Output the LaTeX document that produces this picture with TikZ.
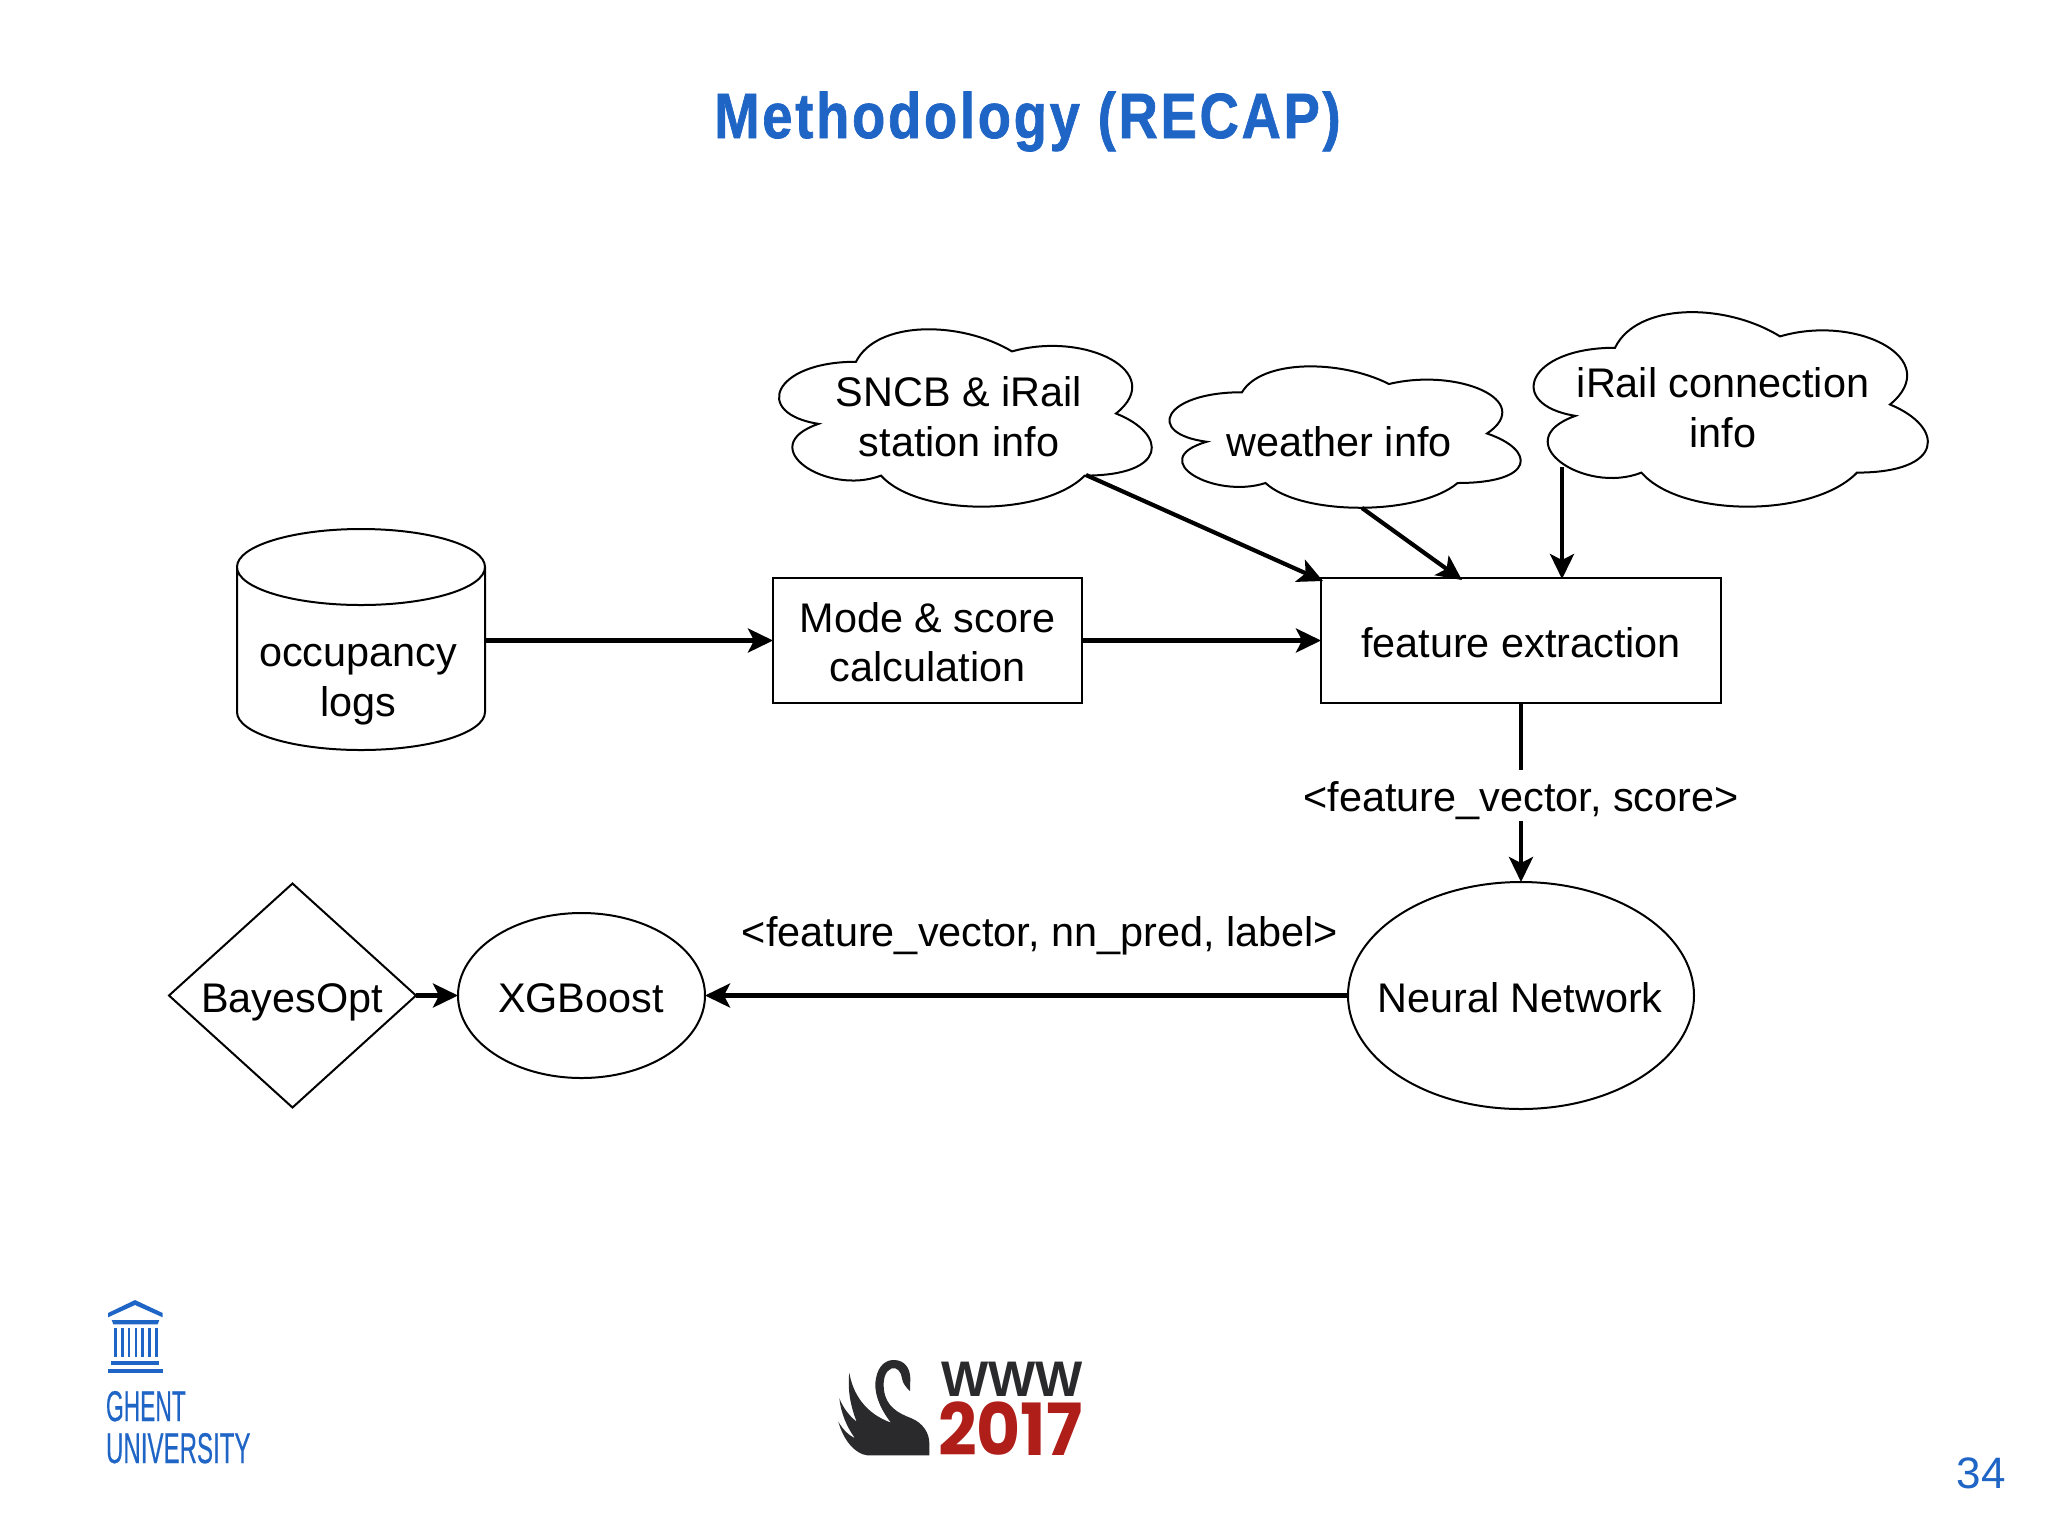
\documentclass[tikz,border=0pt]{standalone}
\usepackage{fontspec}
\setmainfont{Liberation Sans}
\newfontfamily\yrfont{Poppins}
\usetikzlibrary{arrows.meta,shapes.geometric}
\definecolor{ugblue}{HTML}{1F65C6}
\definecolor{swanblack}{HTML}{2A2A2C}
\definecolor{wwwred}{HTML}{B01E1A}
\newcommand{\cloudoutline}[4]{%
  \draw[shapeline,fill=white,shift={(#1,#2)},x=#3pt,y=-#4pt]
   (.25,.25) .. controls (.05,.25) and (0,.5) .. (.16,.55)
   .. controls (0,.66) and (.18,.9) .. (.31,.8)
   .. controls (.4,1) and (.7,1) .. (.8,.8)
   .. controls (1,.8) and (1,.6) .. (.875,.5)
   .. controls (1,.3) and (.8,.1) .. (.625,.2)
   .. controls (.5,.05) and (.3,.05) .. (.25,.25) -- cycle;}
\newcommand{\topst}{\rule{0pt}{42pt}}
\newcommand{\botst}{\rule[-9pt]{0pt}{9pt}}
\newcommand{\lblfont}{\fontsize{41.4}{49.5}\selectfont}
\tikzset{
  shapeline/.style={draw=black,line width=2pt},
  box/.style={shapeline,fill=white,rectangle,inner sep=0pt,outer sep=0pt,align=center,font=\lblfont},
  lbl/.style={inner sep=0pt,outer sep=0pt,align=center,font=\lblfont},
  conn/.style={line width=4.2pt,-{Stealth[length=25pt,width=24pt,inset=6pt]}},
  ugtext/.style={inner sep=0pt,outer sep=0pt,text=ugblue,anchor=base west,font=\fontsize{43}{43}\selectfont\addfontfeature{FakeBold=.6},transform shape},
}
\begin{document}
\begin{tikzpicture}[x=1pt,y=-1pt]
\useasboundingbox[fill=white] (0,0) rectangle (2048,1535);
% title
\begin{scope}[xscale=.85]
\node[inner sep=0pt,text=ugblue,transform shape,anchor=base,font=\fontsize{64}{64}\selectfont\bfseries\addfontfeature{LetterSpace=5,FakeBold=1.2}] (title) at (1027.5/.85,138) {Methodology (RECAP)};
\end{scope}
% cylinder
\draw[shapeline,fill=white] (237,567) -- (237,712) arc[start angle=180,end angle=360,x radius=124,y radius=-38] -- (485,567) arc[start angle=0,end angle=360,x radius=124,y radius=-38];
\node[minimum width=248pt,minimum height=219pt,inner sep=0pt,outer sep=0pt] (occ) at (361,640.5) {};
\node[lbl] (occtxt) at (358,675) {\topst occupancy\\logs\botst};
% boxes
\node[box,minimum width=309pt,minimum height=125pt] (mode) at (927.5,640.5) {\topst Mode \& score\\calculation\botst};
\node[box,minimum width=400pt,minimum height=125pt] (fe) at (1521,640.5) {\topst feature extraction\botst};
% clouds
\cloudoutline{752}{310}{416}{207}
\node[lbl] (c1) at (959,415) {\topst SNCB \& iRail\\station info\botst};
\cloudoutline{1144}{351}{392}{165}
\node[lbl] (c2) at (1339,439.5) {\topst weather info\botst};
\cloudoutline{1505}{291}{440}{227}
\node[lbl] (c3) at (1723,406) {\topst iRail connection\\info\botst};
\coordinate (c1out) at (1086,475);
\coordinate (c2out) at (1362,508);
\coordinate (c3out) at (1562,467);
\coordinate (fein1) at (1323,581);
\coordinate (fein2) at (1462,580);
\coordinate (fein3) at (1562,579);
% lower shapes
\node[box,ellipse,minimum width=346pt,minimum height=227pt] (nn) at (1521,995.5) {};
\node[lbl] (nntxt) at (1520,995.5) {\topst Neural Network\botst};
\node[box,ellipse,minimum width=247pt,minimum height=165pt] (xgb) at (581.5,995.5) {};
\node[lbl] (xgbtxt) at (581,995.5) {\topst XGBoost\botst};
\node[box,diamond,minimum width=247pt,minimum height=224pt] (bo) at (292.5,995.5) {};
\node[lbl] (botxt) at (292,995.5) {\topst BayesOpt\botst};
% connectors
\draw[conn] (occ.east) -- (mode.west);
\draw[conn] (mode.east) -- (fe.west);
\draw[conn] (c1out) -- (fein1);
\draw[conn] (c2out) -- (fein2);
\draw[conn] (c3out) -- (fein3);
\draw[conn] (fe.south) -- node[lbl,fill=white,pos=.515] (fvs) {\topst <feature\_vector, score>\botst} (nn.north);
\draw[conn] (nn.west) -- (xgb.east);
\draw[conn] (bo.east) -- (xgb.west);
\node[lbl] (fvn) at (1040,930) {\topst <feature\_vector, nn\_pred, label>\botst};
% Ghent University logo
\fill[ugblue] (108,1313) -- (135,1300) -- (162.7,1313) -- (162.7,1317.3) -- (135,1305) -- (108,1317.3) -- cycle;
\fill[ugblue] (111.7,1320) -- (159.3,1320) -- (157.7,1324.3) -- (113.3,1324.3) -- cycle;
\foreach \cx in {115.5,122.3,129.1,135.9,142.7,149.5,156.3}
  \fill[ugblue] (\cx-1.25,1328) rectangle (\cx+1.25,1357);
\fill[ugblue] (111,1360.7) rectangle (159.3,1365);
\fill[ugblue] (108,1369.3) rectangle (162.7,1373.3);
\begin{scope}[xscale=.53]
\node[ugtext] (ghent) at (106/.53,1421) {GHENT};
\end{scope}
\begin{scope}[xscale=.56]
\node[ugtext] (uni) at (106/.56,1463) {UNIVERSITY};
\end{scope}
% WWW 2017 logo
\begin{scope}[shift={(830,1350)},x=.3333pt,y=-.3333pt]
\fill[swanblack] (298,316) -- (112,316)
  .. controls (75,312) and (40,270) .. (25,215)
  .. controls (38,238) and (55,255) .. (75,265)
  .. controls (50,230) and (33,190) .. (28,145)
  .. controls (40,175) and (60,200) .. (80,215)
  .. controls (62,170) and (52,120) .. (58,68)
  .. controls (68,130) and (105,190) .. (183,218)
  .. controls (145,170) and (130,120) .. (138,85)
  .. controls (145,45) and (170,28) .. (195,30)
  .. controls (225,32) and (240,55) .. (241,85)
  -- (240,123)
  .. controls (228,112) and (218,100) .. (216,85)
  .. controls (214,65) and (200,50) .. (185,55)
  .. controls (165,62) and (158,90) .. (162,120)
  .. controls (168,170) and (205,190) .. (245,205)
  .. controls (280,220) and (298,250) .. (298,280) -- cycle;
\end{scope}
\node[inner sep=0pt,anchor=base west,text=swanblack,font=\fontsize{50}{50}\selectfont\bfseries] (www) at (941,1396.5) {WWW};
\begin{scope}[xscale=.94]
\node[inner sep=0pt,anchor=base west,text=wwwred,transform shape,font=\fontsize{72}{72}\selectfont\yrfont\bfseries] (yr) at (938/.94,1455.5) {2017};
\end{scope}
% page number
\node[inner sep=0pt,text=ugblue,font=\fontsize{44}{44}\selectfont] (pg) at (1981,1473) {34};
\end{tikzpicture}
\end{document}
